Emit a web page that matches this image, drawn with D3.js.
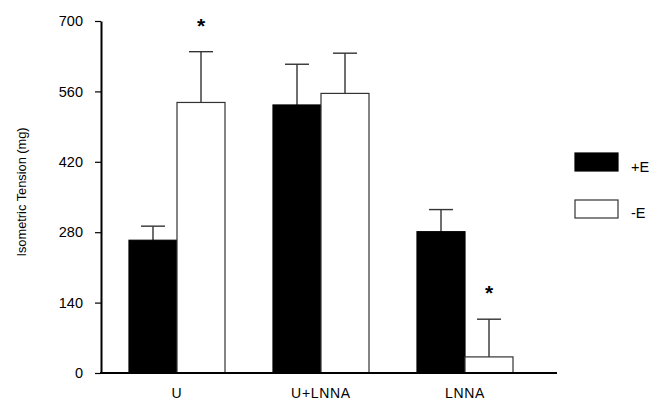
<!DOCTYPE html>
<meta charset="utf-8">
<script src="https://d3js.org/d3.v7.min.js"></script>
<style>
  body { margin: 0; background: #fff; }
  text { font-family: "Liberation Sans", Arial, sans-serif; }
</style>
<div id="chart"></div>
<script>

// data
var groups = ["U", "U+LNNA", "LNNA"];
var series = ["+E", "-E"];
var meanPlusE = [264, 533, 281];
var meanMinusE = [538, 556, 32];
var errPlusE = [28, 81, 44];
var errMinusE = [101, 80, 75];
var stars = [[0, "-E"], [2, "-E"]];
var yTicks = [0, 140, 280, 420, 560, 700];

var width = 661, height = 402;

var svg = d3.select("#chart")
    .append("svg")
    .attr("width", width)
    .attr("height", height);

var y = d3.scaleLinear()
    .domain([0, 700])
    .range([373, 21]);

var x0 = d3.scaleBand()
    .domain(groups)
    .range([105, 537])
    .padding(0);

var x1 = d3.scaleBand()
    .domain(series)
    .range([24, 120])
    .padding(0);

var rows = groups.map(function(g, i) {
    return [
        {group: g, key: "+E", value: meanPlusE[i], err: errPlusE[i]},
        {group: g, key: "-E", value: meanMinusE[i], err: errMinusE[i]}
    ];
});

var fill = {"+E": "#000", "-E": "#fff"};

// error bars first, so the bars cover the stems
var err = svg.append("g")
    .attr("stroke", "#333")
    .attr("stroke-width", 1.4);

rows.forEach(function(r) {
    r.forEach(function(d) {
        var cx = x0(d.group) + x1(d.key) + x1.bandwidth() / 2;
        err.append("line")
            .attr("x1", cx).attr("x2", cx)
            .attr("y1", y(d.value)).attr("y2", y(d.value + d.err));
        err.append("line")
            .attr("x1", cx - 12).attr("x2", cx + 12)
            .attr("y1", y(d.value + d.err)).attr("y2", y(d.value + d.err));
    });
});

// bars
svg.append("g")
    .selectAll("g")
    .data(rows)
    .enter()
    .append("g")
    .attr("transform", function(d) { return "translate(" + x0(d[0].group) + ",0)"; })
    .selectAll("rect")
    .data(function(d) { return d; })
    .enter()
    .append("rect")
    .attr("x", function(d) { return x1(d.key); })
    .attr("y", function(d) { return y(d.value); })
    .attr("width", x1.bandwidth())
    .attr("height", function(d) { return y(0) - y(d.value); })
    .attr("fill", function(d) { return fill[d.key]; })
    .attr("stroke", function(d) { return d.key == "+E" ? "#000" : "#333"; })
    .attr("stroke-width", 1.2);

// asterisks
stars.forEach(function(s) {
    var i = s[0];
    var top = meanMinusE[i] + errMinusE[i];
    svg.append("text")
        .attr("x", x0(groups[i]) + x1(s[1]) + x1.bandwidth() / 2)
        .attr("y", y(top) - 19)
        .attr("text-anchor", "middle")
        .attr("font-size", 21)
        .attr("font-weight", "bold")
        .text("*");
});

// y axis
var yAxis = svg.append("g")
    .attr("transform", "translate(101,0)")
    .call(d3.axisLeft(y).tickValues(yTicks).tickSize(6).tickSizeOuter(0).tickPadding(12));
yAxis.select(".domain").attr("stroke", "#000").attr("stroke-width", 2);
yAxis.selectAll(".tick line").attr("stroke", "#000").attr("stroke-width", 1.2);
yAxis.selectAll(".tick text").attr("font-size", 14.5).attr("fill", "#000")
    .attr("font-family", "Liberation Sans, Arial, sans-serif");

// baseline
svg.append("line")
    .attr("x1", 100).attr("x2", 557)
    .attr("y1", y(0)).attr("y2", y(0))
    .attr("stroke", "#000")
    .attr("stroke-width", 2.2);

// category labels
var xAxis = svg.append("g")
    .attr("transform", "translate(0," + y(0) + ")")
    .call(d3.axisBottom(x0).tickSize(0).tickPadding(15));
xAxis.select(".domain").remove();
xAxis.selectAll(".tick text").attr("font-size", 14).attr("fill", "#000")
    .attr("letter-spacing", 0.7)
    .attr("font-family", "Liberation Sans, Arial, sans-serif");

// y label
svg.append("text")
    .attr("transform", "translate(26,192) rotate(-90)")
    .attr("text-anchor", "middle")
    .attr("font-size", 12.8)
    .text("Isometric Tension (mg)");

// legend
var legend = svg.append("g");
series.forEach(function(k, i) {
    legend.append("rect")
        .attr("x", 575).attr("y", 153 + i * 47)
        .attr("width", 43).attr("height", 18)
        .attr("fill", fill[k])
        .attr("stroke", k == "+E" ? "#000" : "#333")
        .attr("stroke-width", 1.2);
    legend.append("text")
        .attr("x", 631).attr("y", 171.5 + i * 46)
        .attr("font-size", 14.5)
        .text(k);
});

</script>
